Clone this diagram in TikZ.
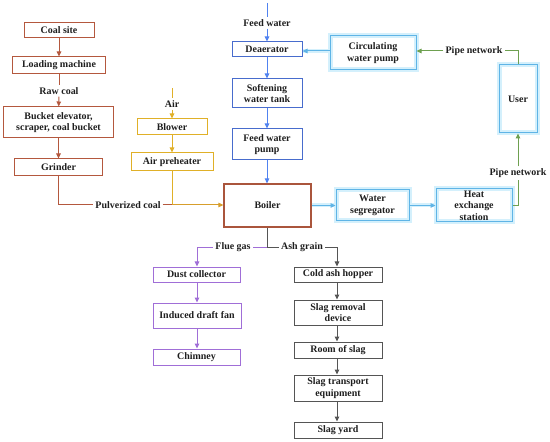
\documentclass[tikz,border=0pt]{standalone}
\usepackage{fontspec}
\setmainfont{Liberation Serif}
\usetikzlibrary{arrows.meta}
\definecolor{coalc}{RGB}{180,88,62}
\definecolor{airc}{RGB}{224,176,40}
\definecolor{bluec}{RGB}{72,108,205}
\definecolor{bluearr}{RGB}{80,130,240}
\definecolor{cyanc}{RGB}{95,180,230}
\definecolor{haloc}{RGB}{212,240,252}
\definecolor{greenc}{RGB}{110,160,80}
\definecolor{purpc}{RGB}{160,110,215}
\definecolor{grayc}{RGB}{85,85,85}
\definecolor{boilc}{RGB}{170,85,60}
\definecolor{txtc}{RGB}{30,30,30}
\begin{document}
\begin{tikzpicture}[x=1bp,y=-1bp,
  every node/.style={font=\bfseries\fontsize{10}{11.5}\selectfont, text=txtc, inner sep=0pt, align=center},
  box/.style={draw, line width=1bp},
  coalbox/.style={box, draw=coalc},
  airbox/.style={box, draw=airc},
  bluebox/.style={box, draw=bluec},
  cyanbox/.style={box, draw=cyanc, preaction={draw=haloc, line width=5bp}},
  purpbox/.style={box, draw=purpc},
  graybox/.style={box, draw=grayc},
  boilbox/.style={box, draw=boilc, line width=1.2bp},
  lab/.style={inner xsep=2bp, inner ysep=2bp},
  tip/.style={-{Triangle[length=5bp,width=4.5bp]}},
  ln/.style={line width=1bp},
  cyanarr/.style={ln, draw=cyanc, tip, preaction={draw=haloc, line width=4bp, -}}
]
\useasboundingbox (0,0) rectangle (550,442);

% coal column
\node[coalbox, minimum width=70bp, minimum height=15bp] (coal) at (59,30.5) {Coal site};
\node[coalbox, minimum width=92bp, minimum height=17bp] (load) at (59,65.5) {Loading machine};
\node[lab] (raw) at (59,91) {Raw coal};
\node[coalbox, minimum width=109bp, minimum height=31bp] (bucket) at (58.5,122.5) {Bucket elevator,\\scraper, coal bucket};
\node[coalbox, minimum width=87bp, minimum height=17bp] (grind) at (58.5,167.5) {Grinder};
\node[lab] (pulv) at (128,205) {Pulverized coal};

% air column
\coordinate (airtop) at (172,88);
\node[lab] (air) at (172,104) {Air};
\node[airbox, minimum width=70bp, minimum height=16bp] (blow) at (172,127) {Blower};
\node[airbox, minimum width=82bp, minimum height=18bp] (pre) at (172,162) {Air preheater};
\coordinate (j) at (172,205);

% water column
\coordinate (fwtop) at (267,3);
\node[lab] (fw) at (267,23) {Feed water};
\node[bluebox, minimum width=70bp, minimum height=15bp] (dea) at (267,49.5) {Deaerator};
\node[bluebox, minimum width=70bp, minimum height=29bp] (soft) at (267,93.5) {Softening\\water tank};
\node[bluebox, minimum width=70bp, minimum height=31bp] (fwp) at (267,144.5) {Feed water\\pump};
\node[boilbox, minimum width=87bp, minimum height=43bp] (boil) at (267.5,205.5) {Boiler};

% heating loop
\node[cyanbox, minimum width=86bp, minimum height=34bp] (circ) at (373,53) {Circulating\\water pump};
\node[lab] (pn1) at (474,51) {Pipe network};
\node[cyanbox, minimum width=38bp, minimum height=68bp] (user) at (518,99) {User};
\node[lab] (pn2) at (518,173) {Pipe network};
\node[cyanbox, minimum width=73bp, minimum height=31bp] (seg) at (372.5,205.5) {Water\\segregator};
\node[cyanbox, minimum width=76bp, minimum height=33bp] (heat) at (474,205.5) {Heat\\exchange\\station};

% flue gas and ash
\coordinate (split) at (267,247.5);
\node[lab] (flue) at (233,247.5) {Flue gas};
\node[lab] (ash) at (302,247.5) {Ash grain};
\node[purpbox, minimum width=87bp, minimum height=15bp] (dust) at (196.5,274.5) {Dust collector};
\node[purpbox, minimum width=88bp, minimum height=25bp] (idf) at (197,315.5) {Induced draft fan};
\node[purpbox, minimum width=87bp, minimum height=16bp] (chim) at (196.5,357) {Chimney};
\node[graybox, minimum width=88bp, minimum height=15bp] (cold) at (338,274.5) {Cold ash hopper};
\node[graybox, minimum width=88bp, minimum height=25bp] (rem) at (338,312.5) {Slag removal\\device};
\node[graybox, minimum width=88bp, minimum height=16bp] (room) at (338,350) {Room of slag};
\node[graybox, minimum width=88bp, minimum height=26bp] (trans) at (338,388) {Slag transport\\equipment};
\node[graybox, minimum width=88bp, minimum height=16bp] (yard) at (338,430) {Slag yard};

% coal connectors
\draw[ln, coalc, tip] (coal) -- (load);
\draw[ln, coalc] (load) -- (raw);
\draw[ln, coalc, tip] (raw) -- (bucket);
\draw[ln, coalc, tip] (bucket) -- (grind);
\draw[ln, coalc] (grind.south) |- (pulv.west);
\draw[ln, coalc] (pulv.east) -- (j);

% air connectors
\draw[ln, airc] (airtop) -- (air.north);
\draw[ln, airc, tip] (air) -- (blow);
\draw[ln, airc, tip] (blow) -- (pre);
\draw[ln, airc] (pre.south) -- (j);
\draw[ln, airc!80!coalc, tip] (j) -- (boil.west |- j);

% water connectors
\draw[ln, bluearr] (fwtop) -- (fw.north);
\draw[ln, bluearr, tip] (fw) -- (dea);
\draw[ln, bluearr, tip] (dea) -- (soft);
\draw[ln, bluearr, tip] (soft) -- (fwp);
\draw[ln, bluearr, tip] (fwp.south) -- (boil.north -| fwp.south);

% heating loop connectors
\draw[cyanarr] (boil) -- (seg);
\draw[cyanarr] (seg) -- (heat);
\draw[cyanarr] (circ.west |- pn1) -- (dea.east |- pn1);
\draw[ln, greenc] (user.north) |- (pn1.east);
\draw[ln, greenc, tip] (pn1.west) -- (circ.east |- pn1);
\draw[ln, greenc] (heat.east) -| (pn2.south);
\draw[ln, greenc, tip] (pn2.north) -- (user.south);

% flue gas / ash connectors
\draw[ln, grayc] (boil.south -| split) -- (split);
\draw[ln, purpc] (split) -- (flue.east);
\draw[ln, purpc, tip] (flue.west) -| (dust.north -| idf);
\draw[ln, purpc, tip] (dust.south -| idf) -- (idf.north);
\draw[ln, purpc, tip] (idf.south) -- (chim.north -| idf);
\draw[ln, grayc] (split) -- (ash.west);
\draw[ln, grayc, tip] (ash.east) -| ([xshift=-1bp]cold.north);
\draw[ln, grayc, tip] ([xshift=-1bp]cold.south) -- ([xshift=-1bp]rem.north);
\draw[ln, grayc, tip] ([xshift=-1bp]rem.south) -- ([xshift=-1bp]room.north);
\draw[ln, grayc, tip] ([xshift=-1bp]room.south) -- ([xshift=-1bp]trans.north);
\draw[ln, grayc, tip] ([xshift=-1bp]trans.south) -- ([xshift=-1bp]yard.north);
\end{tikzpicture}
\end{document}
